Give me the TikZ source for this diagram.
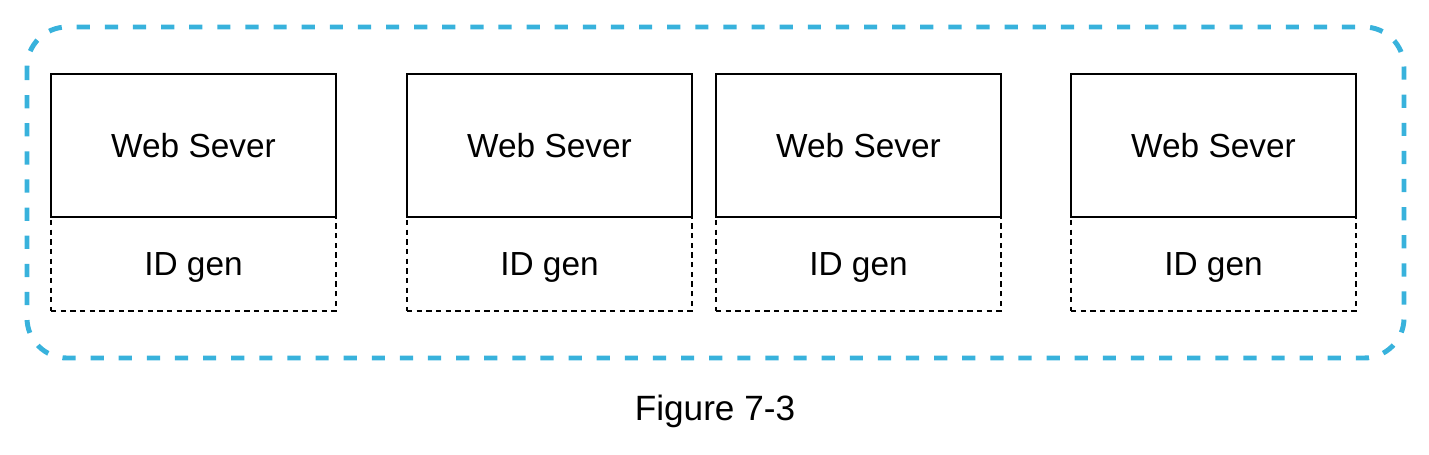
\documentclass[tikz,border=0pt]{standalone}
\usepackage{fontspec}
\setmainfont{Liberation Sans}
\usepackage{tikz}
\usetikzlibrary{positioning}

\definecolor{groupblue}{RGB}{56,178,220}

\begin{document}
\begin{tikzpicture}[semithick,
    server/.style={draw,line width=1.1pt,outer sep=0pt,minimum width=5.7cm,minimum height=2.86cm,inner sep=0pt,text depth=0pt,font=\fontsize{19}{22}\selectfont},
    idgen/.style={draw,line width=1.1pt,outer sep=0pt,dash pattern=on 3pt off 2.5pt,minimum width=5.7cm,minimum height=1.88cm,inner sep=0pt,text depth=0pt,font=\fontsize{19}{22}\selectfont},
    group/.style={draw=groupblue,line width=2.8pt,dash pattern=on 7.5pt off 8.5pt,rounded corners=0.8cm}]
	  \useasboundingbox (0,0) rectangle (28.58,-9.08);

	  \node[server] (W1) at (3.87,-2.91) {Web Sever};
	  \node[server] (W2) [right=1.42cm of W1] {Web Sever};
	  \node[server] (W3) [right=0.48cm of W2] {Web Sever};
	  \node[server] (W4) [right=1.40cm of W3] {Web Sever};

	  \node[idgen] (G1) [below=0pt of W1] {ID gen};
	  \node[idgen] (G2) [below=0pt of W2] {ID gen};
	  \node[idgen] (G3) [below=0pt of W3] {ID gen};
	  \node[idgen] (G4) [below=0pt of W4] {ID gen};

	  % solid line between the two halves
	  \foreach \i in {1,...,4}
	    \draw[line width=1.1pt] (W\i.south west) -- (W\i.south east);

	  \draw[group] (0.54,-0.54) rectangle (28.08,-7.16);

	  \node[font=\fontsize{20}{24}\selectfont] (cap) at (14.3,-8.22) {Figure 7-3};
	\end{tikzpicture}
\end{document}
